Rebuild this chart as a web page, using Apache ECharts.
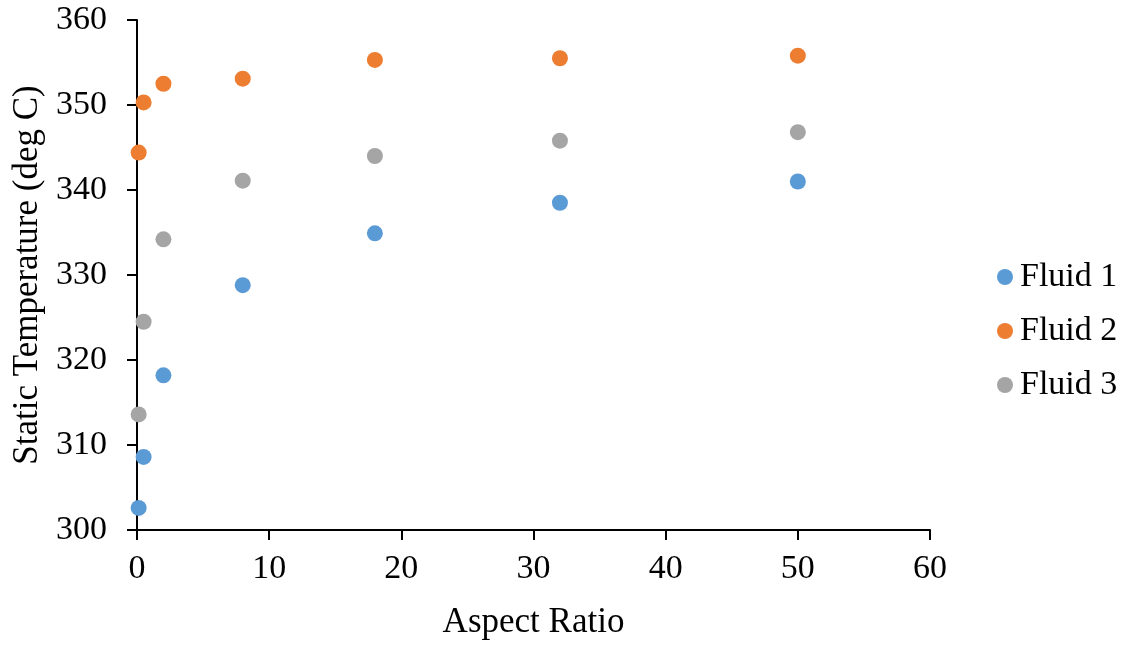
<!DOCTYPE html>
<html>
<head>
<meta charset="utf-8">
<script src="https://cdn.jsdelivr.net/npm/echarts@6/dist/echarts.min.js"></script>
<style>
html,body{margin:0;padding:0;background:#fff;}
#chart{width:1132px;height:645px;}
</style>
</head>
<body>
<div id="chart"></div>
<script>
var aspectRatios = [0.125, 0.5, 2, 8, 18, 32, 50];
var fluid1 = [302.6, 308.6, 318.2, 328.8, 334.9, 338.5, 341.0];
var fluid2 = [344.4, 350.3, 352.5, 353.1, 355.3, 355.5, 355.8];
var fluid3 = [313.6, 324.5, 334.2, 341.1, 344.0, 345.8, 346.8];
var seriesNames = ['Fluid 1', 'Fluid 2', 'Fluid 3'];
var seriesColors = ['#5B9BD5', '#ED7D31', '#A5A5A5'];

function pairs(ys){ return aspectRatios.map(function(x,i){ return [x, ys[i]]; }); }

var font = 'Liberation Serif, Times New Roman, serif';
var chart = echarts.init(document.getElementById('chart'));
chart.setOption({
  animation: false,
  backgroundColor: '#fff',
  textStyle: { fontFamily: font, color: '#000' },
  grid: { left: 137, right: 202, top: 20, bottom: 112, containLabel: false },
  legend: {
    orient: 'vertical',
    left: 992,
    top: 255,
    itemWidth: 16,
    itemHeight: 16,
    itemGap: 20,
    icon: 'circle',
    textStyle: { fontFamily: font, fontSize: 34, color: '#000', padding: [0,0,0,2] },
    data: seriesNames
  },
  xAxis: {
    type: 'value',
    min: 0, max: 60, interval: 10,
    name: 'Aspect Ratio',
    nameLocation: 'middle',
    nameGap: 75,
    nameTextStyle: { fontFamily: font, fontSize: 35, color: '#000' },
    axisLine: { show: true, lineStyle: { color: '#000', width: 2 } },
    axisTick: { show: true, inside: false, length: 10, lineStyle: { color: '#000', width: 2 } },
    axisLabel: { fontFamily: font, fontSize: 34, color: '#000', margin: 22 },
    splitLine: { show: false }
  },
  yAxis: {
    type: 'value',
    min: 300, max: 360, interval: 10,
    name: 'Static Temperature (deg C)',
    nameLocation: 'middle',
    nameGap: 90,
    nameTextStyle: { fontFamily: font, fontSize: 35, color: '#000' },
    axisLine: { show: true, onZero: false, lineStyle: { color: '#000', width: 2 } },
    axisTick: { show: true, inside: false, length: 10, lineStyle: { color: '#000', width: 2 } },
    axisLabel: { fontFamily: font, fontSize: 34, color: '#000', margin: 30 },
    splitLine: { show: false }
  },
  series: [fluid1, fluid2, fluid3].map(function(d, i){
    return {
      name: seriesNames[i],
      type: 'scatter',
      symbol: 'circle',
      symbolSize: 16,
      itemStyle: { color: seriesColors[i], opacity: 1 },
      data: pairs(d)
    };
  })
});
</script>
</body>
</html>
